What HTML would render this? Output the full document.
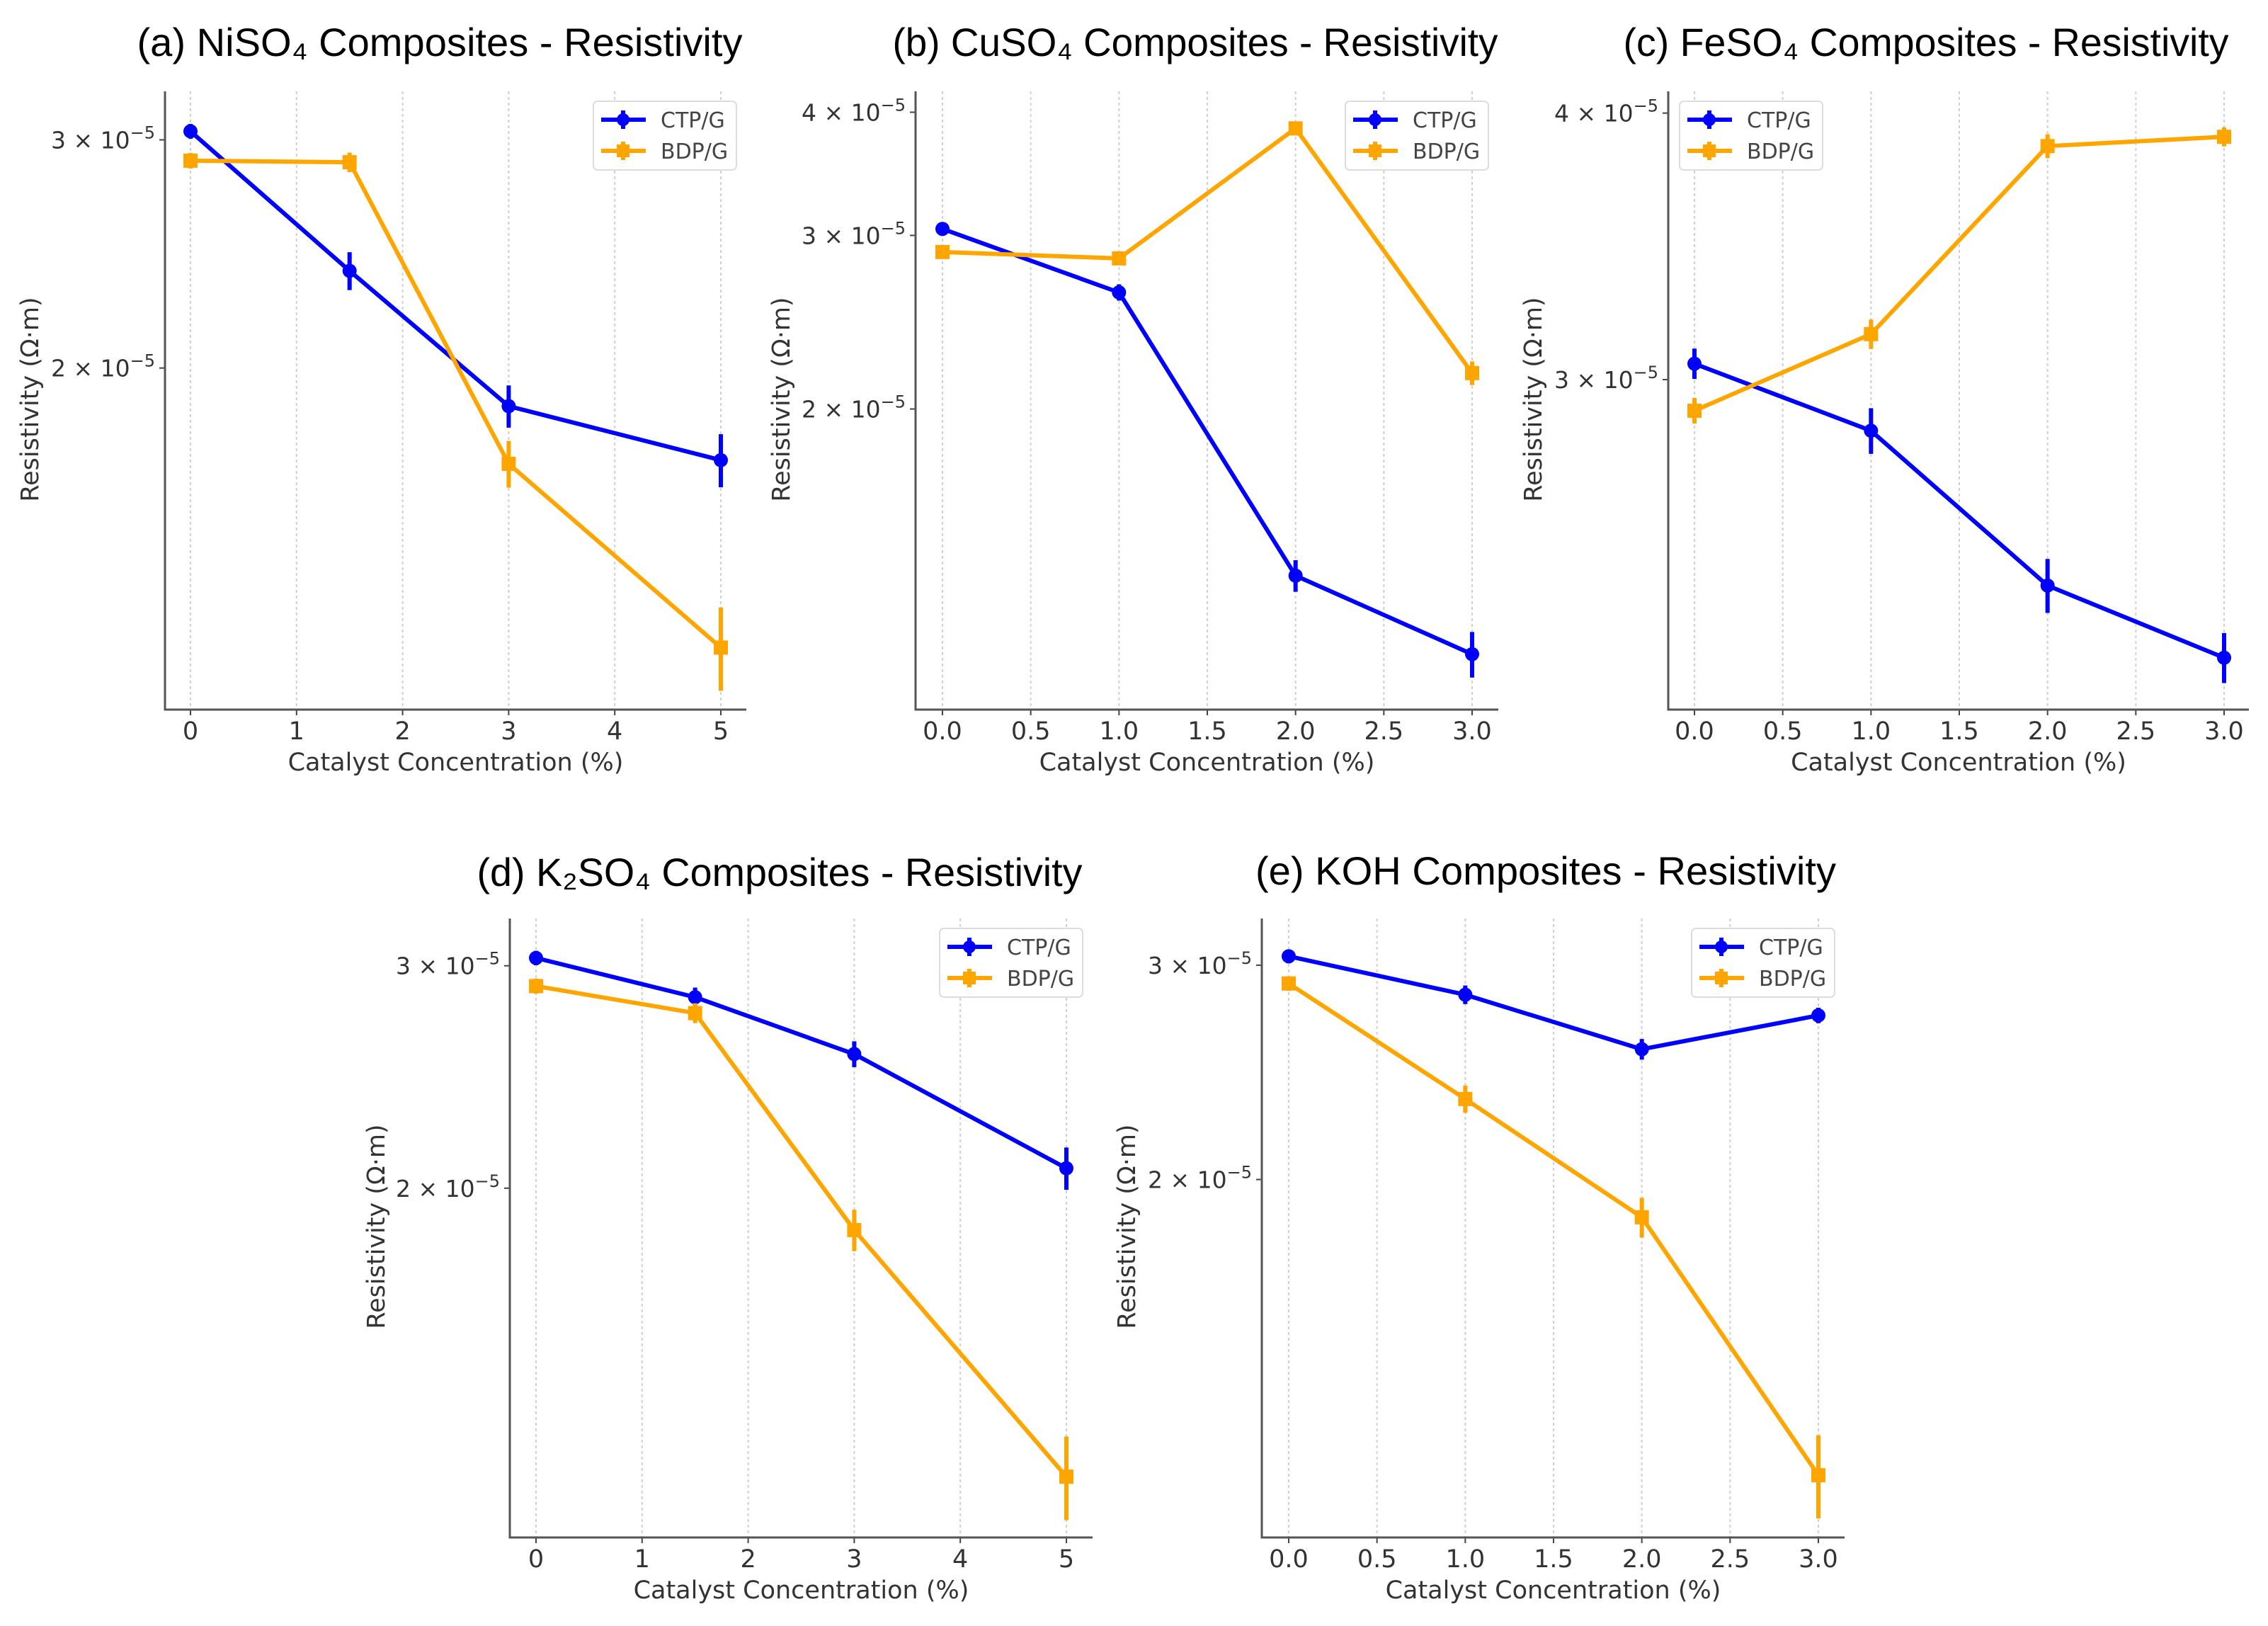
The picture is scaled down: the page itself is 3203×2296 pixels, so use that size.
<!DOCTYPE html>
<html><head><meta charset="utf-8"><style>
html,body{margin:0;padding:0;background:#fff}
svg{display:block}
</style></head><body>
<svg id="fig" width="3203" height="2296" viewBox="0 0 3203 2296" xmlns="http://www.w3.org/2000/svg"></svg>
<script>
// ---- data (values in units of 1e-5 Ω·m) ----
const xA = [0, 1.5, 3, 5];
const ctpA = [3.046, 2.377, 1.869, 1.698];
const bdpA = [2.891, 2.883, 1.687, 1.217];
const ctpErrA = [0.04, 0.08, 0.07, 0.08];
const bdpErrA = [0.04, 0.05, 0.07, 0.09];

const xB = [0, 1, 2, 3];
const ctpB = [3.046, 2.626, 1.355, 1.128];
const bdpB = [2.886, 2.843, 3.852, 2.175];
const ctpErrB = [0.03, 0.05, 0.05, 0.06];
const bdpErrB = [0.03, 0.04, 0.04, 0.06];

const xC = [0, 1, 2, 3];
const ctpC = [3.052, 2.839, 2.402, 2.222];
const bdpC = [2.901, 3.151, 3.860, 3.899];
const ctpErrC = [0.05, 0.07, 0.07, 0.06];
const bdpErrC = [0.04, 0.05, 0.05, 0.04];

const xD = [0, 1.5, 3, 5];
const ctpD = [3.043, 2.833, 2.554, 2.074];
const bdpD = [2.891, 2.752, 1.853, 1.182];
const ctpErrD = [0.04, 0.05, 0.06, 0.08];
const bdpErrD = [0.04, 0.05, 0.07, 0.09];

const xE = [0, 1, 2, 3];
const ctpE = [3.051, 2.837, 2.559, 2.728];
const bdpE = [2.898, 2.329, 1.862, 1.143];
const ctpErrE = [0.04, 0.05, 0.05, 0.04];
const bdpErrE = [0.04, 0.06, 0.07, 0.09];

const xTicksInt = [0, 1, 2, 3, 4, 5];
const xTickLabelsInt = ['0', '1', '2', '3', '4', '5'];
const xTicksHalf = [0, 0.5, 1, 1.5, 2, 2.5, 3];
const xTickLabelsHalf = ['0.0', '0.5', '1.0', '1.5', '2.0', '2.5', '3.0'];
const yTicks = [2, 3, 4];
const yTickMant = ['2', '3', '4'];

const titles = ['(a) NiSO\u2084 Composites - Resistivity', '(b) CuSO\u2084 Composites - Resistivity',
  '(c) FeSO\u2084 Composites - Resistivity', '(d) K\u2082SO\u2084 Composites - Resistivity',
  '(e) KOH Composites - Resistivity'];

// ---- layout ----
const panels = [
 {id:'a', L:233, R:1054, T:129, B:1002, x:xA, ctp:ctpA, bdp:bdpA, ce:ctpErrA, be:bdpErrA, ymin:1.09, ymax:3.27, xt:xTicksInt, xl:xTickLabelsInt, tcx:621, tby:79, ylx:42, leg:'right', x0:269, xN:1018, xNv:5},
 {id:'b', L:1293, R:2116, T:129, B:1002, x:xB, ctp:ctpB, bdp:bdpB, ce:ctpErrB, be:bdpErrB, ymin:0.991, ymax:4.20, xt:xTicksHalf, xl:xTickLabelsHalf, tcx:1688, tby:79, ylx:1103, leg:'right', x0:1331, xN:2079, xNv:3},
 {id:'c', L:2356, R:3176, T:129, B:1002, x:xC, ctp:ctpC, bdp:bdpC, ce:ctpErrC, be:bdpErrC, ymin:2.101, ymax:4.095, xt:xTicksHalf, xl:xTickLabelsHalf, tcx:2720, tby:79, ylx:2165, leg:'left', x0:2393, xN:3141, xNv:3},
 {id:'d', L:720, R:1543, T:1297, B:2171, x:xD, ctp:ctpD, bdp:bdpD, ce:ctpErrD, be:bdpErrD, ymin:1.058, ymax:3.27, xt:xTicksInt, xl:xTickLabelsInt, tcx:1101, tby:1251, ylx:531, leg:'right', x0:757, xN:1506, xNv:5},
 {id:'e', L:1782, R:2605, T:1297, B:2171, x:xE, ctp:ctpE, bdp:bdpE, ce:ctpErrE, be:bdpErrE, ymin:1.016, ymax:3.277, xt:xTicksHalf, xl:xTickLabelsHalf, tcx:2183, tby:1249, ylx:1591, leg:'right', x0:1820, xN:2568, xNv:3}
];

const NS = 'http://www.w3.org/2000/svg';
const svg = document.getElementById('fig');
function mk(tag, attrs, parent){
  const e = document.createElementNS(NS, tag);
  for (const k in attrs) e.setAttribute(k, attrs[k]);
  (parent||svg).appendChild(e);
  return e;
}
const TICKFONT = '"DejaVu Sans", "Liberation Sans", sans-serif';
const BLUE = '#0000ff', ORANGE = '#ffa500';

panels.forEach((p, pi) => {
  const g = mk('g', {});
  
  
  const sx = v => p.x0 + v / p.xNv * (p.xN - p.x0);
  const sy = v => p.B - (Math.log(v) - Math.log(p.ymin)) / (Math.log(p.ymax) - Math.log(p.ymin)) * (p.B - p.T);

  p.xt.forEach((t, i) => {
    const gl = mk('line', {x1:sx(t), x2:sx(t), y1:p.T, y2:p.B, stroke:'#d0d0d0', 'stroke-width':2, 'stroke-dasharray':'4,4'}, g);
    
    
    const tk = mk('line', {x1:sx(t), x2:sx(t), y1:p.B, y2:p.B+8, stroke:'#444', 'stroke-width':2}, g);
    
    
    const tl = mk('text', {x:sx(t), y:p.B+42, 'text-anchor':'middle', 'font-family':TICKFONT, 'font-size':35, fill:'#333'}, g);
    tl.textContent = p.xl[i];
    
    
  });
  yTicks.forEach((t, i) => {
    if (t < p.ymin || t > p.ymax) return;
    const y = sy(t);
    const tk = mk('line', {x1:p.L-8, x2:p.L, y1:y, y2:y, stroke:'#444', 'stroke-width':2}, g);
    
    
    const tl = mk('text', {x:p.L-14, y:y+12, 'text-anchor':'end', 'font-family':TICKFONT, 'font-size':33, fill:'#333'}, g);
    
    
    const a = mk('tspan', {}, tl); a.textContent = yTickMant[i] + ' \u00d7 10';
    const b = mk('tspan', {dy:-14, 'font-size':24}, tl); b.textContent = '\u22125';
  });
  const sp = mk('path', {d:`M${p.L},${p.T} V${p.B} H${p.R}`, fill:'none', stroke:'#555', 'stroke-width':3}, g);
  
  

  const series = [
    {name:'ctp', vals:p.ctp, err:p.ce, color:BLUE, marker:'circle'},
    {name:'bdp', vals:p.bdp, err:p.be, color:ORANGE, marker:'square'}
  ];
  series.forEach(s => {
    const pts = p.x.map((x, i) => sx(x) + ',' + sy(s.vals[i])).join(' ');
    const ln = mk('polyline', {points:pts, fill:'none', stroke:s.color, 'stroke-width':6, 'stroke-linejoin':'round'}, g);
    
    
    p.x.forEach((x, i) => {
      const cx = sx(x), cy = sy(s.vals[i]);
      const eb = mk('line', {x1:cx, x2:cx, y1:sy(s.vals[i] + s.err[i]), y2:sy(s.vals[i] - s.err[i]), stroke:s.color, 'stroke-width':6}, g);
      
      
      let m;
      if (s.marker === 'circle') m = mk('circle', {cx:cx, cy:cy, r:10, fill:s.color}, g);
      else m = mk('rect', {x:cx-10, y:cy-10, width:20, height:20, fill:s.color}, g);
      
      
    });
  });

  const tt = mk('text', {x:p.tcx, y:p.tby, 'text-anchor':'middle', 'font-family':'"Liberation Sans", sans-serif', 'font-size':56, fill:'#000', textLength:855, lengthAdjust:'spacingAndGlyphs'}, g);
  if (p.id === 'e') tt.setAttribute('textLength', 820);
  tt.textContent = titles[pi];
  
  
  const xl = mk('text', {x:(p.L+p.R)/2, y:p.B+86, 'text-anchor':'middle', 'font-family':TICKFONT, 'font-size':35, fill:'#333'}, g);
  xl.textContent = 'Catalyst Concentration (%)';
  
  
  const ycy = p.T + 435;
  const yl = mk('text', {x:p.ylx, y:ycy, 'text-anchor':'middle', 'font-family':TICKFONT, 'font-size':35, fill:'#333', transform:`rotate(-90 ${p.ylx} ${ycy}) translate(0 12)`}, g);
  yl.textContent = 'Resistivity (\u03a9\u00b7m)';
  
  

  const lx = p.leg === 'right' ? p.R - 216 : p.L + 16;
  const ly = p.T + 14;
  const lg = mk('g', {}, g);
  
  
  mk('rect', {x:lx, y:ly, width:202, height:97, rx:6, fill:'#fff', stroke:'#dddddd', 'stroke-width':2}, lg);
  [['CTP/G', BLUE, 'circle'], ['BDP/G', ORANGE, 'square']].forEach((e, i) => {
    const ry = ly + 26 + i * 44;
    const ent = mk('g', {}, lg);
    
    
    mk('line', {x1:lx+11, x2:lx+74, y1:ry, y2:ry, stroke:e[1], 'stroke-width':6}, ent);
    mk('line', {x1:lx+42, x2:lx+42, y1:ry-13, y2:ry+13, stroke:e[1], 'stroke-width':6}, ent);
    if (e[2] === 'circle') mk('circle', {cx:lx+42, cy:ry, r:9, fill:e[1]}, ent);
    else mk('rect', {x:lx+33, y:ry-9, width:18, height:18, fill:e[1]}, ent);
    const t = mk('text', {x:lx+95, y:ry+11, 'font-family':TICKFONT, 'font-size':30, fill:'#444'}, ent);
    t.textContent = e[0];
  });
});
</script>
</body></html>
